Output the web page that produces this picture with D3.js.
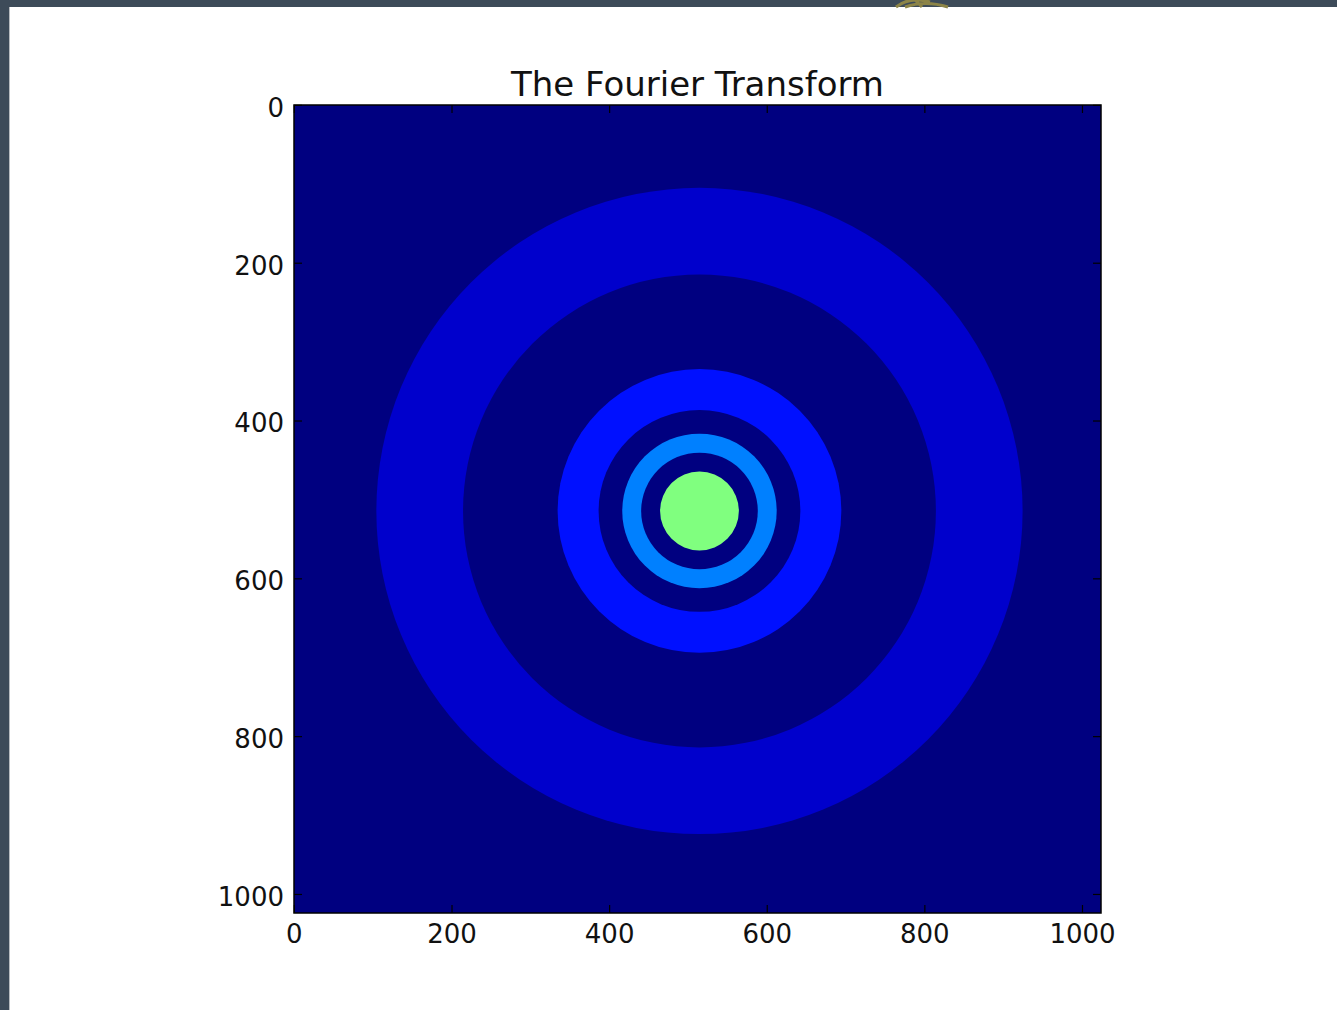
<!DOCTYPE html>
<html>
<head>
<meta charset="utf-8">
<script src="https://cdn.jsdelivr.net/npm/d3@7"></script>
<style>
  html, body { margin: 0; padding: 0; background: #3d4b59; }
  #page { position: absolute; left: 9px; top: 7px; width: 1328px; height: 1003px; background: #fff; border-left: 1px solid #b8bcc0; }
  text { font-family: "DejaVu Sans", sans-serif; fill: #111; }
</style>
</head>
<body>
<div id="page"></div>
<svg id="chart" width="1337" height="1010" style="position:absolute;left:0;top:0"></svg>
<script>
// image extent (pixels of the transformed array)
const imgSize = 1024;
const tickValues = [0, 200, 400, 600, 800, 1000];
const title = "The Fourier Transform";

// concentric bands, outer radius of each filled disc (data units), drawn big to small
const ringRadii  = [410, 300, 180, 128, 98, 74, 50];
const ringColors = ["#0000cc", "#000080", "#0010ff", "#000080", "#0080ff", "#000080", "#80ff7f"];
const bgColor = "#000080";
const centre = [514, 514];

const plot = { left: 294, top: 105, right: 1101, bottom: 913 };

const svg = d3.select("#chart");

// yellowish logo fragment peeking in the top bar
svg.append("path")
  .attr("d", "M896,7 Q910,-4 930,2 M905,7 Q925,0 948,7 M915,0 L922,7")
  .attr("fill", "none").attr("stroke", "#8c8447").attr("stroke-width", 3);

const x = d3.scaleLinear().domain([-0.5, imgSize - 0.5]).range([plot.left, plot.right]);
const y = d3.scaleLinear().domain([-0.5, imgSize - 0.5]).range([plot.top, plot.bottom]);

const g = svg.append("g");

g.append("rect")
  .attr("x", plot.left).attr("y", plot.top)
  .attr("width", plot.right - plot.left).attr("height", plot.bottom - plot.top)
  .attr("fill", bgColor);

g.selectAll("circle.ring").data(ringRadii).enter().append("circle")
  .attr("class", "ring")
  .attr("cx", x(centre[0]))
  .attr("cy", y(centre[1]))
  .attr("r", d => x(d) - x(0))
  .attr("fill", (d, i) => ringColors[i]);

// inward ticks on all four sides
const tickLen = 8;
const ticks = g.append("g").attr("stroke", "#000").attr("stroke-width", 1.2);
tickValues.forEach(v => {
  ticks.append("line").attr("x1", x(v)).attr("x2", x(v)).attr("y1", plot.bottom).attr("y2", plot.bottom - tickLen);
  ticks.append("line").attr("x1", x(v)).attr("x2", x(v)).attr("y1", plot.top).attr("y2", plot.top + tickLen);
  ticks.append("line").attr("y1", y(v)).attr("y2", y(v)).attr("x1", plot.left).attr("x2", plot.left + tickLen);
  ticks.append("line").attr("y1", y(v)).attr("y2", y(v)).attr("x1", plot.right).attr("x2", plot.right - tickLen);
});

g.append("rect")
  .attr("x", plot.left).attr("y", plot.top)
  .attr("width", plot.right - plot.left).attr("height", plot.bottom - plot.top)
  .attr("fill", "none").attr("stroke", "#000").attr("stroke-width", 1.5);

g.selectAll("text.xt").data(tickValues).enter().append("text")
  .attr("class", "xt")
  .attr("x", d => x(d)).attr("y", plot.bottom + 30)
  .attr("text-anchor", "middle").attr("font-size", 26)
  .text(d => d);

g.selectAll("text.yt").data(tickValues).enter().append("text")
  .attr("class", "yt")
  .attr("x", plot.left - 10).attr("y", d => y(d) + 2)
  .attr("dy", "0.36em")
  .attr("text-anchor", "end").attr("font-size", 26)
  .text(d => d);

g.append("text")
  .attr("x", (plot.left + plot.right) / 2).attr("y", plot.top - 9)
  .attr("text-anchor", "middle").attr("font-size", 34)
  .text(title);
</script>
</body>
</html>
